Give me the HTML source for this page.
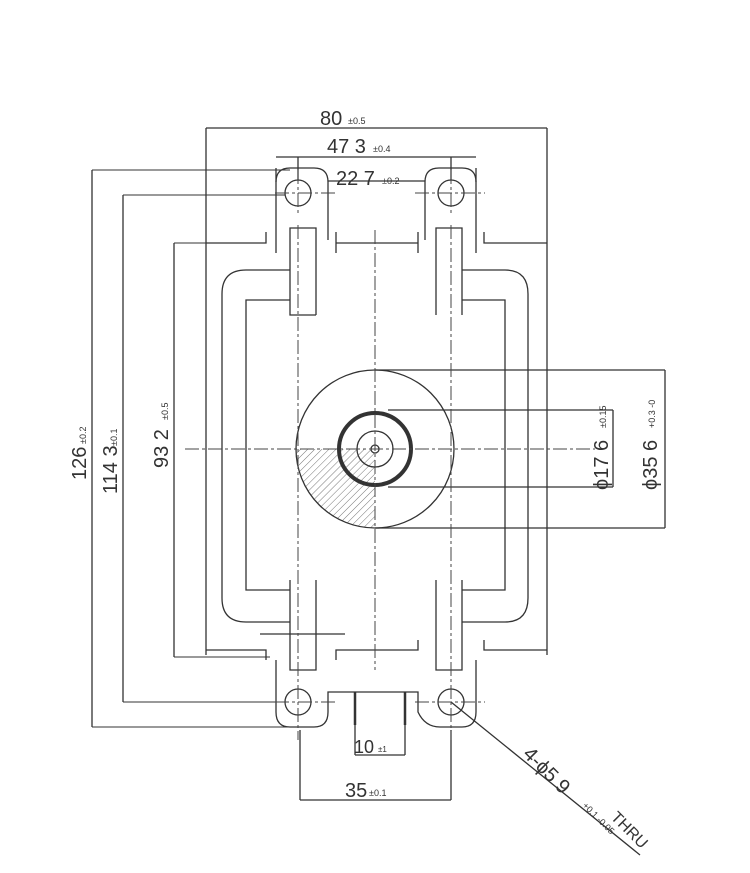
<!DOCTYPE html>
<html><head><style>body{margin:0;background:#fff}svg{display:block}text{font-family:"Liberation Sans Narrow","Liberation Sans",sans-serif;fill:#333}</style></head><body>
<svg width="750" height="873" viewBox="0 0 750 873" xmlns="http://www.w3.org/2000/svg">
<defs><pattern id="h" width="5" height="5" patternUnits="userSpaceOnUse" patternTransform="rotate(45)"><line x1="0" y1="0" x2="0" y2="5" stroke="#777" stroke-width="1"/></pattern></defs>
<g stroke="#333" stroke-width="1.3" fill="none">
<path d="M206 128V655 M547 128V655"/>
<path d="M206 243H266V232 M276 168V253 M336 232V253 M336 243H418V232 M418 232V253 M476 168V253 M484 232V243H547"/>
<path d="M206 650H266V660 M336 660V650H418V640 M484 640V650H547"/>
<path d="M276 182Q276 168 290 168H314Q328 168 328 182V240"/>
<path d="M425 240V182Q425 168 439 168H462Q476 168 476 182"/>
<path d="M276 660V712Q276 727 290 727H314Q328 727 328 712V692H418V712Q425 727 440 727H462Q476 727 476 712V660"/>
<circle cx="298" cy="193" r="13"/><circle cx="451" cy="193" r="13"/>
<circle cx="298" cy="702" r="13"/><circle cx="451" cy="702" r="13"/>
<path d="M290 270H246Q222 270 222 294V598Q222 622 246 622H290 M462 270H505Q528 270 528 294V598Q528 622 505 622H462"/>
<path d="M290 300H246V590H290 M462 300H505V590H462"/>
<path d="M290 315V228H316V315 M290 300V315H316 M462 315V228H436V315 M290 580V670H316V580 M462 580V670H436V580"/>
<path d="M260 634H345"/>
<path d="M355 692V725 M405 692V725" stroke-width="2.5"/>
<path d="M375 449V528A79 79 0 0 1 296 449Z" fill="url(#h)" stroke="none"/>
<circle cx="375" cy="449" r="79"/>
<circle cx="375" cy="449" r="36" stroke-width="4"/>
<circle cx="375" cy="449" r="18"/>
<circle cx="375" cy="449" r="4"/>
<path d="M92 170H290 M123 195H285 M174 243H266 M174 657H270 M123 702H285 M92 727H290" stroke-width="1"/>
<path d="M92 170V727 M123 195V702 M174 243V657"/>
<path d="M206 128H547 M276 157H476 M328 181H425 M298 157V180 M451 157V180"/>
<path d="M375 370H665 M388 410H613 M388 487H613 M375 528H665 M665 370V528 M613 410V487"/>
<path d="M300 730V800 M451 730V800 M300 800H451 M355 725V755 M405 725V755 M355 755H405"/>
<path d="M451 702L640 855"/>
</g>
<g stroke="#444" stroke-width="1" stroke-dasharray="14 3 3 3" fill="none">
<path d="M375 230V670 M185 449H595 M298 170V215 M451 170V215 M298 225V740 M451 225V740 M275 193H335 M415 193H485 M275 702H335 M415 702H485"/>
</g>
<g font-size="20">
<text x="320" y="125">80</text><text x="348" y="124" font-size="9">±0.5</text>
<text x="327" y="153">47 3</text><text x="373" y="152" font-size="9">±0.4</text>
<text x="336" y="185">22 7</text><text x="382" y="184" font-size="9">±0.2</text>
<text x="354" y="753" font-size="18">10</text><text x="378" y="752" font-size="8">±1</text>
<text x="345" y="797">35</text><text x="369" y="796" font-size="9">±0.1</text>
<text transform="translate(86 480) rotate(-90)">126</text><text transform="translate(86 444) rotate(-90)" font-size="9">±0.2</text>
<text transform="translate(117 494) rotate(-90)">114 3</text><text transform="translate(117 446) rotate(-90)" font-size="9">±0.1</text>
<text transform="translate(168 468) rotate(-90)">93 2</text><text transform="translate(168 420) rotate(-90)" font-size="9">±0.5</text>
<text transform="translate(608 490) rotate(-90)">ϕ17 6</text><text transform="translate(606 428) rotate(-90)" font-size="9">±0.15</text>
<text transform="translate(657 490) rotate(-90)">ϕ35 6</text><text transform="translate(655 428) rotate(-90)" font-size="9">+0.3 -0</text>
<text transform="translate(522 755) rotate(45)">4-ϕ5 9</text><text transform="translate(582 806) rotate(45)" font-size="9">+0.1 -0.05</text><text transform="translate(610 818) rotate(45)" font-size="16">THRU</text>
</g>
</svg>
</body></html>
